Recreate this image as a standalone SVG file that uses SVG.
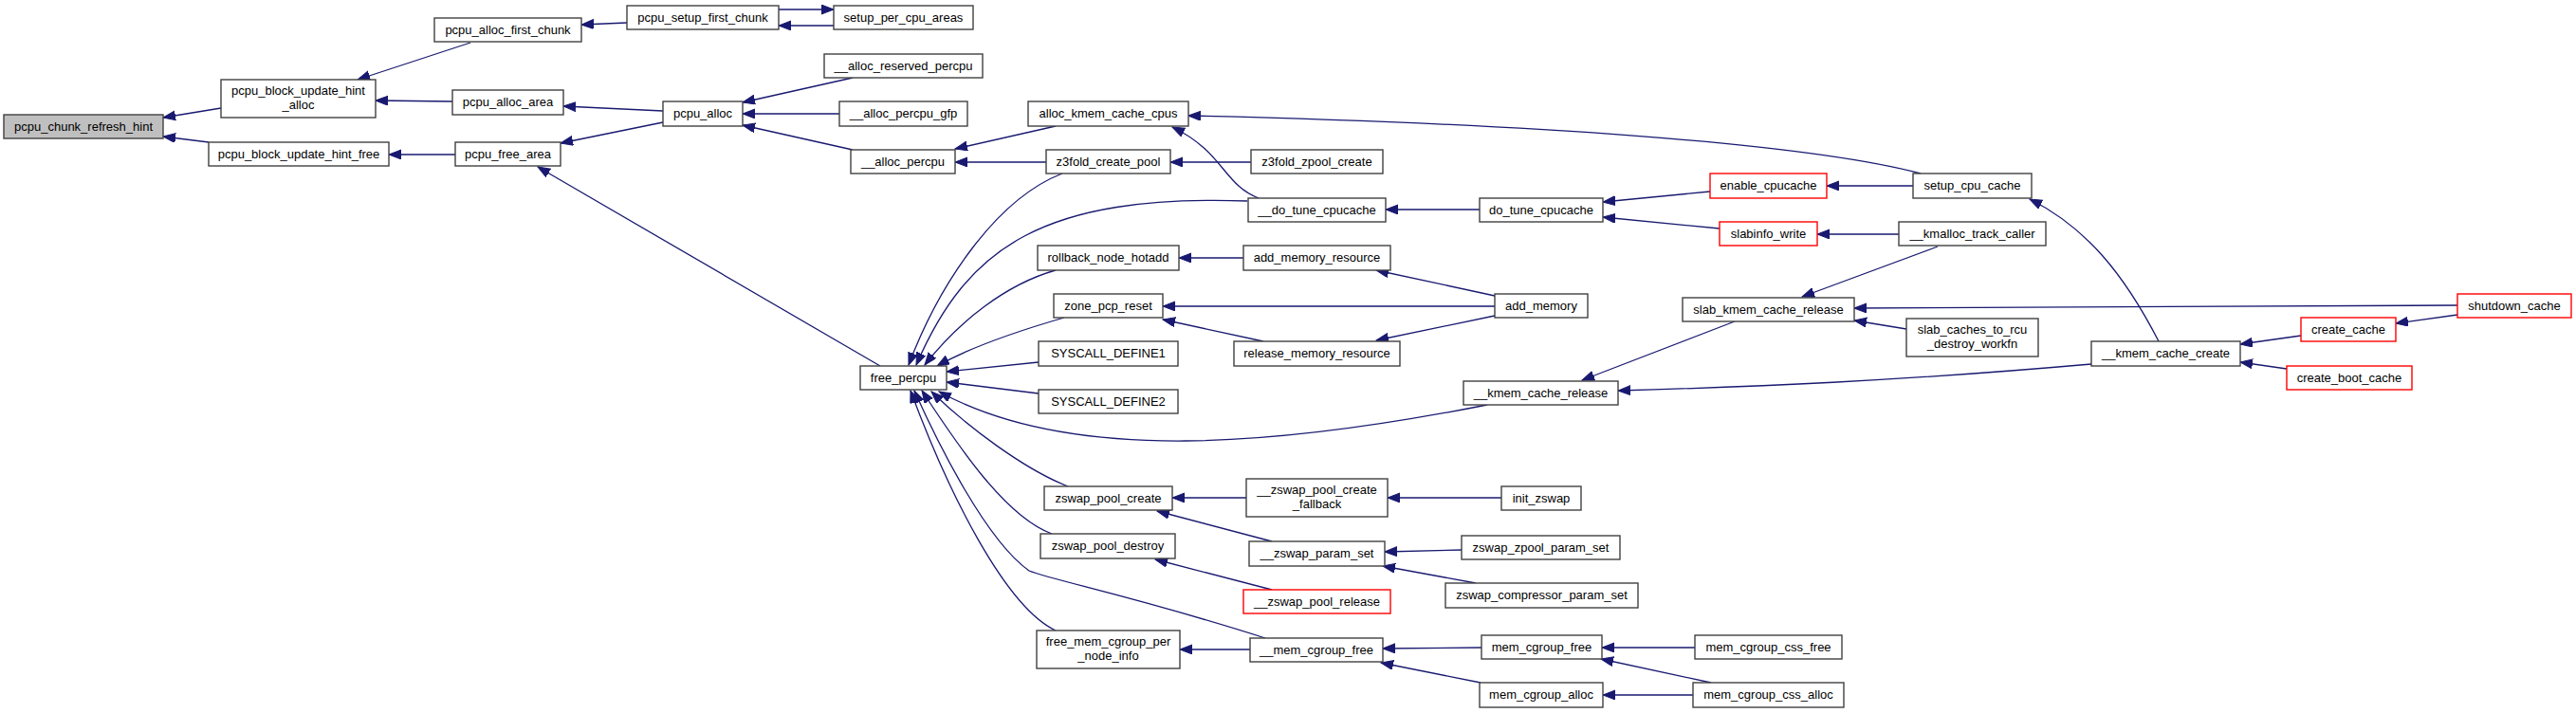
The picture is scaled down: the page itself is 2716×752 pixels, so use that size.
<svg xmlns="http://www.w3.org/2000/svg" width="2716" height="752" viewBox="0 0 2716 752">
<style>
.node rect{fill:#ffffff;stroke:#404040;stroke-width:1.4}
.node.red rect{stroke:#ff0000}
.node.root rect{fill:#bfbfbf}
.node text{font-family:"Liberation Sans",Arial,Helvetica,sans-serif;font-size:13px;text-anchor:middle;fill:#000000}
.edges path{fill:none;stroke:#191970;stroke-width:1.3;marker-end:url(#ah)}
</style>
<defs>
<marker id="ah" markerUnits="userSpaceOnUse" markerWidth="14" markerHeight="11" refX="13" refY="5" orient="auto">
<path d="M0,0 L13,5 L0,10 z" fill="#191970" stroke="#191970" stroke-width="1"/>
</marker>
</defs>
<rect width="2716" height="752" fill="#ffffff"/>
<g id="edges" class="edges">
<path d="M233,114 L172,124"/>
<path d="M220,150 L172,144"/>
<path d="M496,45 L377,84"/>
<path d="M477,107 L396,106"/>
<path d="M480,163 L410,163"/>
<path d="M661,24 L613,26"/>
<path d="M699,117 L594,112"/>
<path d="M699,129 L591,151"/>
<path d="M928,386 L567,176"/>
<path d="M821,10 L879,10"/>
<path d="M879,27 L821,27"/>
<path d="M899,82 L783,108"/>
<path d="M885,120 L783,120"/>
<path d="M899,158 L783,132"/>
<path d="M1113,133 L1007,157"/>
<path d="M1103,171 L1007,171"/>
<path d="M2025,183 C1900,150 1600,130 1253,122"/>
<path d="M1327,209 C1290,195 1290,160 1236,134"/>
<path d="M1319,171 L1234,171"/>
<path d="M1120,183 C1050,210 990,300 958,385"/>
<path d="M1315,212 C1100,205 1020,260 966,385"/>
<path d="M1560,221 L1461,221"/>
<path d="M1803,202 L1690,213"/>
<path d="M1813,241 L1690,229"/>
<path d="M2017,196 L1926,196"/>
<path d="M2002,247 L1916,247"/>
<path d="M2276,360 C2240,290 2200,240 2140,210"/>
<path d="M1311,272 L1243,272"/>
<path d="M1113,285 C1060,300 1010,340 975,385"/>
<path d="M1576,312 L1451,285"/>
<path d="M1576,323 L1226,323"/>
<path d="M1576,333 L1451,359"/>
<path d="M1332,360 L1226,337"/>
<path d="M1122,335 C1070,350 1020,368 988,386"/>
<path d="M1095,382 L998,392"/>
<path d="M1095,415 L998,403"/>
<path d="M1568,427 C1350,470 1130,490 990,413"/>
<path d="M1829,339 L1668,401"/>
<path d="M2205,384 C2000,402 1850,408 1706,412"/>
<path d="M2043,260 L1900,313"/>
<path d="M2591,322 L1955,325"/>
<path d="M2010,347 L1955,338"/>
<path d="M2426,354 L2362,363"/>
<path d="M2411,389 L2362,382"/>
<path d="M2591,332 L2526,341"/>
<path d="M1126,513 C1080,495 1020,450 982,413"/>
<path d="M1314,525 L1236,525"/>
<path d="M1583,525 L1463,525"/>
<path d="M1341,571 L1220,539"/>
<path d="M1541,580 L1460,582"/>
<path d="M1556,615 L1458,597"/>
<path d="M1109,563 C1060,545 1010,470 972,412"/>
<path d="M1341,622 L1218,590"/>
<path d="M1334,673 C1200,630 1110,612 1085,602 C1040,570 990,470 964,412"/>
<path d="M1562,683 L1458,684"/>
<path d="M1561,720 L1456,699"/>
<path d="M1318,685 L1244,685"/>
<path d="M1113,665 C1060,640 1000,520 960,412"/>
<path d="M1787,683 L1689,683"/>
<path d="M1804,720 L1688,695"/>
<path d="M1785,733 L1690,733"/>
</g>
<g id="n_pcpu_chunk_refresh_hint" class="node root"><rect x="4" y="121" width="168" height="25"/><text x="88" y="138">pcpu_chunk_refresh_hint</text></g>
<g id="n_pcpu_block_update_hint_alloc" class="node"><rect x="233" y="84" width="163" height="40"/><text x="314.5" y="100">pcpu_block_update_hint</text><text x="314.5" y="115">_alloc</text></g>
<g id="n_pcpu_block_update_hint_free" class="node"><rect x="220" y="150" width="190" height="25"/><text x="315" y="167">pcpu_block_update_hint_free</text></g>
<g id="n_pcpu_alloc_first_chunk" class="node"><rect x="458" y="19" width="155" height="25"/><text x="535.5" y="36">pcpu_alloc_first_chunk</text></g>
<g id="n_pcpu_alloc_area" class="node"><rect x="477" y="95" width="117" height="26"/><text x="535.5" y="112">pcpu_alloc_area</text></g>
<g id="n_pcpu_free_area" class="node"><rect x="480" y="150" width="111" height="25"/><text x="535.5" y="167">pcpu_free_area</text></g>
<g id="n_pcpu_setup_first_chunk" class="node"><rect x="661" y="6" width="160" height="25"/><text x="741" y="23">pcpu_setup_first_chunk</text></g>
<g id="n_pcpu_alloc" class="node"><rect x="699" y="107" width="84" height="26"/><text x="741" y="124">pcpu_alloc</text></g>
<g id="n_setup_per_cpu_areas" class="node"><rect x="879" y="6" width="147" height="25"/><text x="952.5" y="23">setup_per_cpu_areas</text></g>
<g id="n___alloc_reserved_percpu" class="node"><rect x="869" y="57" width="167" height="25"/><text x="952.5" y="74">__alloc_reserved_percpu</text></g>
<g id="n___alloc_percpu_gfp" class="node"><rect x="885" y="107" width="135" height="26"/><text x="952.5" y="124">__alloc_percpu_gfp</text></g>
<g id="n___alloc_percpu" class="node"><rect x="897" y="158" width="110" height="25"/><text x="952" y="175">__alloc_percpu</text></g>
<g id="n_free_percpu" class="node"><rect x="907" y="386" width="91" height="25"/><text x="952.5" y="403">free_percpu</text></g>
<g id="n_alloc_kmem_cache_cpus" class="node"><rect x="1084" y="107" width="169" height="26"/><text x="1168.5" y="124">alloc_kmem_cache_cpus</text></g>
<g id="n_z3fold_create_pool" class="node"><rect x="1103" y="158" width="131" height="25"/><text x="1168.5" y="175">z3fold_create_pool</text></g>
<g id="n_rollback_node_hotadd" class="node"><rect x="1094" y="259" width="149" height="26"/><text x="1168.5" y="276">rollback_node_hotadd</text></g>
<g id="n_zone_pcp_reset" class="node"><rect x="1111" y="310" width="115" height="25"/><text x="1168.5" y="327">zone_pcp_reset</text></g>
<g id="n_SYSCALL_DEFINE1" class="node"><rect x="1095" y="360" width="147" height="26"/><text x="1168.5" y="377">SYSCALL_DEFINE1</text></g>
<g id="n_SYSCALL_DEFINE2" class="node"><rect x="1095" y="411" width="147" height="25"/><text x="1168.5" y="428">SYSCALL_DEFINE2</text></g>
<g id="n_zswap_pool_create" class="node"><rect x="1101" y="513" width="135" height="25"/><text x="1168.5" y="530">zswap_pool_create</text></g>
<g id="n_zswap_pool_destroy" class="node"><rect x="1097" y="563" width="142" height="26"/><text x="1168" y="580">zswap_pool_destroy</text></g>
<g id="n_free_mem_cgroup_per_node_info" class="node"><rect x="1093" y="665" width="151" height="40"/><text x="1168.5" y="681">free_mem_cgroup_per</text><text x="1168.5" y="696">_node_info</text></g>
<g id="n_z3fold_zpool_create" class="node"><rect x="1319" y="158" width="139" height="25"/><text x="1388.5" y="175">z3fold_zpool_create</text></g>
<g id="n___do_tune_cpucache" class="node"><rect x="1316" y="209" width="145" height="25"/><text x="1388.5" y="226">__do_tune_cpucache</text></g>
<g id="n_add_memory_resource" class="node"><rect x="1311" y="259" width="155" height="26"/><text x="1388.5" y="276">add_memory_resource</text></g>
<g id="n_release_memory_resource" class="node"><rect x="1301" y="360" width="175" height="26"/><text x="1388.5" y="377">release_memory_resource</text></g>
<g id="n___zswap_pool_create_fallback" class="node"><rect x="1314" y="505" width="149" height="40"/><text x="1388.5" y="521">__zswap_pool_create</text><text x="1388.5" y="536">_fallback</text></g>
<g id="n___zswap_param_set" class="node"><rect x="1317" y="571" width="143" height="26"/><text x="1388.5" y="588">__zswap_param_set</text></g>
<g id="n___zswap_pool_release" class="node red"><rect x="1311" y="622" width="155" height="25"/><text x="1388.5" y="639">__zswap_pool_release</text></g>
<g id="n___mem_cgroup_free" class="node"><rect x="1318" y="673" width="140" height="25"/><text x="1388" y="690">__mem_cgroup_free</text></g>
<g id="n_do_tune_cpucache" class="node"><rect x="1560" y="209" width="130" height="25"/><text x="1625" y="226">do_tune_cpucache</text></g>
<g id="n_add_memory" class="node"><rect x="1576" y="310" width="98" height="25"/><text x="1625" y="327">add_memory</text></g>
<g id="n___kmem_cache_release" class="node"><rect x="1543" y="402" width="163" height="25"/><text x="1624.5" y="419">__kmem_cache_release</text></g>
<g id="n_init_zswap" class="node"><rect x="1583" y="513" width="84" height="25"/><text x="1625" y="530">init_zswap</text></g>
<g id="n_zswap_zpool_param_set" class="node"><rect x="1541" y="565" width="167" height="25"/><text x="1624.5" y="582">zswap_zpool_param_set</text></g>
<g id="n_zswap_compressor_param_set" class="node"><rect x="1524" y="615" width="203" height="26"/><text x="1625.5" y="632">zswap_compressor_param_set</text></g>
<g id="n_mem_cgroup_free" class="node"><rect x="1562" y="670" width="127" height="25"/><text x="1625.5" y="687">mem_cgroup_free</text></g>
<g id="n_mem_cgroup_alloc" class="node"><rect x="1560" y="720" width="130" height="26"/><text x="1625" y="737">mem_cgroup_alloc</text></g>
<g id="n_enable_cpucache" class="node red"><rect x="1803" y="183" width="123" height="26"/><text x="1864.5" y="200">enable_cpucache</text></g>
<g id="n_slabinfo_write" class="node red"><rect x="1813" y="234" width="103" height="25"/><text x="1864.5" y="251">slabinfo_write</text></g>
<g id="n_slab_kmem_cache_release" class="node"><rect x="1774" y="314" width="181" height="25"/><text x="1864.5" y="331">slab_kmem_cache_release</text></g>
<g id="n_mem_cgroup_css_free" class="node"><rect x="1787" y="670" width="155" height="25"/><text x="1864.5" y="687">mem_cgroup_css_free</text></g>
<g id="n_mem_cgroup_css_alloc" class="node"><rect x="1785" y="720" width="159" height="26"/><text x="1864.5" y="737">mem_cgroup_css_alloc</text></g>
<g id="n_setup_cpu_cache" class="node"><rect x="2017" y="183" width="125" height="26"/><text x="2079.5" y="200">setup_cpu_cache</text></g>
<g id="n___kmalloc_track_caller" class="node"><rect x="2002" y="234" width="155" height="25"/><text x="2079.5" y="251">__kmalloc_track_caller</text></g>
<g id="n_slab_caches_to_rcu_destroy_workfn" class="node"><rect x="2010" y="336" width="139" height="40"/><text x="2079.5" y="352">slab_caches_to_rcu</text><text x="2079.5" y="367">_destroy_workfn</text></g>
<g id="n___kmem_cache_create" class="node"><rect x="2205" y="360" width="157" height="26"/><text x="2283.5" y="377">__kmem_cache_create</text></g>
<g id="n_create_cache" class="node red"><rect x="2426" y="335" width="100" height="25"/><text x="2476" y="352">create_cache</text></g>
<g id="n_create_boot_cache" class="node red"><rect x="2411" y="386" width="132" height="25"/><text x="2477" y="403">create_boot_cache</text></g>
<g id="n_shutdown_cache" class="node red"><rect x="2591" y="310" width="120" height="25"/><text x="2651" y="327">shutdown_cache</text></g>
</svg>
